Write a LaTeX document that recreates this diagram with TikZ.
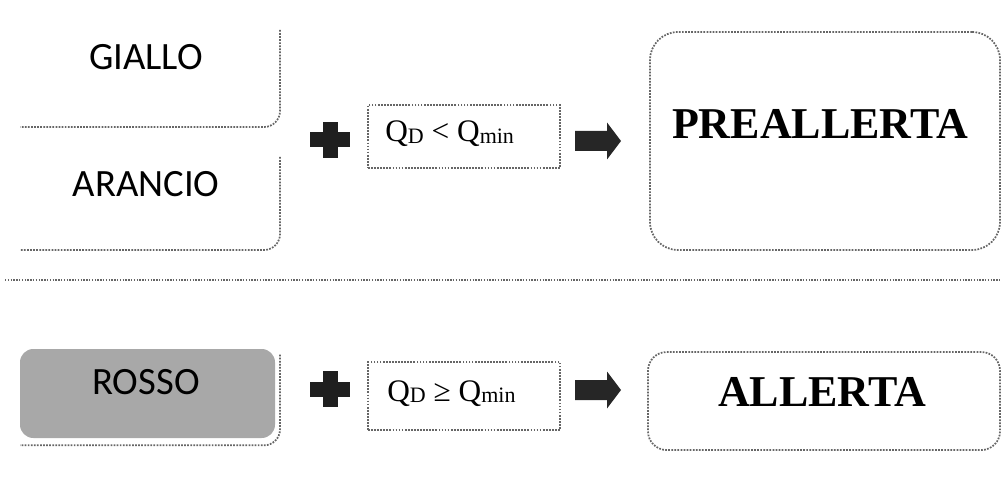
\documentclass[tikz,border=0pt]{standalone}
\usepackage{fontspec}
\setmainfont{Liberation Serif}
\newfontfamily\levelfont{Carlito}
\usetikzlibrary{calc}

% subscript used in the threshold conditions
\newcommand{\qsub}[1]{\raisebox{-1.2pt}{\fontsize{16.5}{16.5}\selectfont #1}}

\tikzset{
  dotline/.style={draw=black!60, densely dotted, line width=1.3pt},
  blank/.style={draw=none, inner sep=0pt, outer sep=0pt},
  levellabel/.style={font=\levelfont\fontsize{29}{31}\selectfont, inner sep=0pt, anchor=base},
  statelabel/.style={font=\bfseries\fontsize{33}{36}\selectfont, inner sep=0pt, anchor=base},
  condlabel/.style={font=\fontsize{23.5}{26}\selectfont, inner sep=0pt, anchor=base west},
  condbox/.style={dotline, inner sep=0pt, minimum width=144pt},
  statebox/.style={dotline, inner sep=0pt},
  plussign/.pic={
    \fill[black!88] (-7.5,-18) rectangle (7.5,18);
    \fill[black!88] (-20,-7.5) rectangle (20,7.5);
  },
  blockarrow/.pic={
    \fill[black!85] (-22,-10) -- (10,-10) -- (10,-18.5) -- (24,0)
      -- (10,18.5) -- (10,10) -- (-22,10) -- cycle;
  }
}

\begin{document}
\begin{tikzpicture}[x=0.75pt,y=-0.75pt]
\useasboundingbox (0,0) rectangle (1003,481);

% ---- upper row: yellow / orange levels ----
\node[blank, minimum width=195pt, minimum height=72.75pt] (giallo) at (150,78.5) {};
\node[blank, minimum width=195pt, minimum height=69.75pt] (arancio) at (150,203.5) {};
\draw[dotline, rounded corners=12pt] (giallo.north east) -- (giallo.south east) -- (giallo.south west);
\draw[dotline, rounded corners=12pt] (arancio.north east) -- (arancio.south east) -- (arancio.south west);
\node[levellabel] (gialloT) at (146,70) {GIALLO};
\node[levellabel] (arancioT) at (146,196) {ARANCIO};

\pic at (330,140) {plussign};

\node[condbox, minimum height=47.25pt] (cond1) at (464,136.5) {};
\node[condlabel] (cond1T) at (385,142) {Q\qsub{D} < Q\qsub{min}};

\pic at (597,141) {blockarrow};

\node[statebox, rounded corners=21pt, minimum width=262.5pt, minimum height=163.5pt] (pre) at (825,141) {};
\node[statelabel] (preT) at (820,139) {PREALLERTA};

% ---- separator ----
\coordinate (sepL) at (5,280);
\coordinate (sepR) at (1000,280);
\draw[dotline, line width=1.1pt] (sepL) -- (sepR);

% ---- lower row: red level ----
\node[blank, minimum width=195pt, minimum height=68pt] (rossoS) at (150,400) {};
\draw[dotline, rounded corners=12pt] (rossoS.north east) -- (rossoS.south east) -- (rossoS.south west);
\node[fill=black!34, rounded corners=10pt, inner sep=0pt, minimum width=191.25pt, minimum height=66.75pt] (rosso) at (147.5,393.5) {};
\node[levellabel] (rossoT) at (146,394) {ROSSO};

\pic at (330,389) {plussign};

\node[condbox, minimum height=51pt] (cond2) at (464,396) {};
\node[condlabel] (cond2T) at (387,401) {Q\qsub{D} \symbol{"2265} Q\qsub{min}};

\pic at (597,390) {blockarrow};

\node[statebox, rounded corners=14pt, minimum width=264pt, minimum height=73.5pt] (all) at (824,401) {};
\node[statelabel] (allT) at (822,406) {ALLERTA};
\end{tikzpicture}
\end{document}
